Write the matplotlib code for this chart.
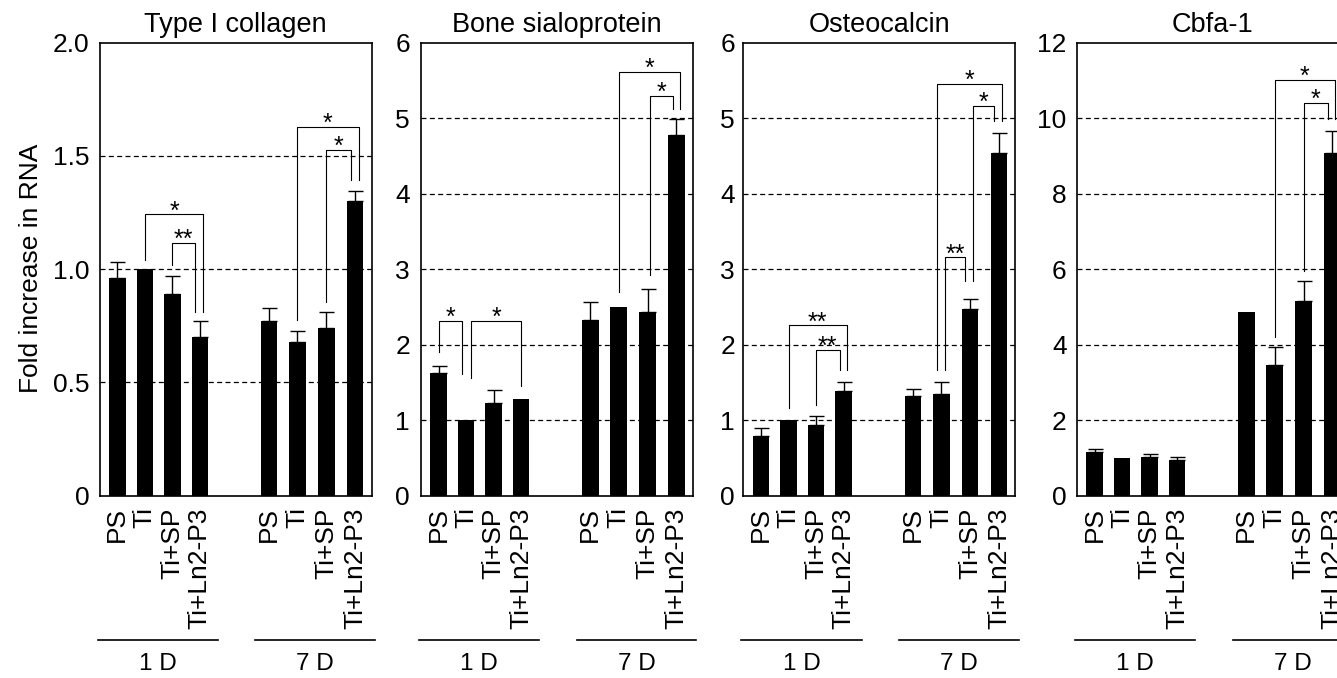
import matplotlib
matplotlib.use("Agg")
import matplotlib.pyplot as plt
from matplotlib.transforms import blended_transform_factory

plt.rcParams['font.family'] = ['Liberation Sans', 'DejaVu Sans']
plt.rcParams['lines.scale_dashes'] = False

# ---------------- data ----------------
conditions = ["PS", "Ti", "Ti+SP", "Ti+Ln2-P3"]
days = ["1 D", "7 D"]
genes = ["Type I collagen", "Bone sialoprotein", "Osteocalcin", "Cbfa-1"]

col1_mean = [0.96, 1.00, 0.89, 0.70, 0.77, 0.68, 0.74, 1.30]
col1_err = [0.07, 0.00, 0.08, 0.07, 0.06, 0.045, 0.07, 0.045]
bsp_mean = [1.62, 1.00, 1.23, 1.28, 2.32, 2.50, 2.43, 4.78]
bsp_err = [0.10, 0.00, 0.17, 0.00, 0.24, 0.00, 0.30, 0.21]
oc_mean = [0.79, 1.00, 0.93, 1.38, 1.32, 1.35, 2.47, 4.54]
oc_err = [0.10, 0.00, 0.13, 0.13, 0.09, 0.16, 0.13, 0.27]
cbfa_mean = [1.15, 1.00, 1.02, 0.94, 4.87, 3.46, 5.15, 9.09]
cbfa_err = [0.09, 0.00, 0.07, 0.09, 0.00, 0.48, 0.54, 0.58]

yticks_list = [[0, 0.5, 1.0, 1.5, 2.0], [0, 1, 2, 3, 4, 5, 6],
               [0, 1, 2, 3, 4, 5, 6], [0, 2, 4, 6, 8, 10, 12]]
ytick_labels = [["0", "0.5", "1.0", "1.5", "2.0"],
                ["0", "1", "2", "3", "4", "5", "6"],
                ["0", "1", "2", "3", "4", "5", "6"],
                ["0", "2", "4", "6", "8", "10", "12"]]

# significance brackets: (bar i, bar j, top, leg bottom i, leg bottom j, label, dx i, dx j)
sig_col1 = [(1, 3, 1.242, 1.04, 0.812, "*", 0.0, 0.12),
            (2, 3, 1.117, 1.018, 0.812, "**", 0.0, -0.17),
            (5, 7, 1.628, 0.775, 1.394, "*", 0.0, 0.12),
            (6, 7, 1.526, 0.853, 1.394, "*", 0.0, -0.17)]
sig_bsp = [(0, 1, 2.316, 1.898, 1.61, "*", 0.0, -0.16),
           (1, 3, 2.316, 1.554, 1.445, "*", 0.18, 0.0),
           (5, 7, 5.612, 2.70, 5.12, "*", 0.0, 0.12),
           (6, 7, 5.30, 2.918, 5.12, "*", 0.09, -0.14)]
sig_oc = [(1, 3, 2.255, 1.157, 1.663, "**", 0.0, 0.12),
          (2, 3, 1.928, 1.20, 1.663, "**", 0.0, -0.15),
          (5, 7, 5.458, 1.663, 4.96, "*", -0.17, 0.11),
          (5, 6, 3.154, 1.663, 2.845, "**", 0.12, -0.18),
          (6, 7, 5.16, 2.845, 4.96, "*", 0.12, -0.19)]
sig_cbfa = [(5, 7, 11.01, 4.2, 9.975, "*", 0.0, 0.10),
            (6, 7, 10.4, 5.95, 9.975, "*", 0.0, -0.15)]

means = [col1_mean, bsp_mean, oc_mean, cbfa_mean]
errs = [col1_err, bsp_err, oc_err, cbfa_err]
sigs = [sig_col1, sig_bsp, sig_oc, sig_cbfa]

# ---------------- layout ----------------
xpos = [0, 1, 2, 3, 5.52, 6.55, 7.6, 8.65]
FS_TITLE = 19.5
FS_TICK = 19
FS_STAR = 18
FS_DAY = 17.5
fig = plt.figure(figsize=(13.37, 6.78), dpi=100)
W, H = 1337, 678
lefts = [99.5, 420.7, 743.3, 1076.7]
ax_w = 272.2
ax_top, ax_bot = 42.7, 495.5
ypads = [7.2, 7.7, 6.0, 7.2]

for k in range(4):
    ax = fig.add_axes([lefts[k] / W, 1 - ax_bot / H, ax_w / W, (ax_bot - ax_top) / H])
    ymax = yticks_list[k][-1]
    ax.set_xlim(-0.65, 9.25)
    ax.set_ylim(0, ymax)
    for t in yticks_list[k][1:-1]:
        ax.axhline(t, color='black', lw=0.9, dashes=(3.6, 2.4), zorder=1)
    ax.bar(xpos, means[k], width=0.6, color='black', zorder=2)
    ex = [x for x, e in zip(xpos, errs[k]) if e > 0]
    ey = [m for m, e in zip(means[k], errs[k]) if e > 0]
    ee = [e for e in errs[k] if e > 0]
    ax.errorbar(ex, ey, yerr=[[0] * len(ee), ee], fmt='none', ecolor='black',
                elinewidth=1.0, capsize=5.4, capthick=1.0, zorder=3)
    for (i, j, top, yi, yj, lab, dxi, dxj) in sigs[k]:
        x1 = xpos[i] + dxi
        x2 = xpos[j] + dxj
        ax.plot([x1, x1, x2, x2], [yi, top, top, yj], color='black', lw=0.8,
                zorder=4, clip_on=False)
        ax.annotate(lab, xy=((x1 + x2) / 2, top), xytext=(0, -3),
                    textcoords='offset points', ha='center', va='baseline',
                    fontsize=FS_STAR, zorder=5)
    ax.set_yticks(yticks_list[k])
    ax.set_yticklabels(ytick_labels[k], fontsize=FS_TICK)
    ax.set_xticks(xpos)
    ax.set_xticklabels(conditions * 2, rotation=90, fontsize=FS_TICK)
    ax.tick_params(axis='y', length=0, pad=ypads[k])
    ax.tick_params(axis='x', length=0, pad=8.5)
    for sp in ax.spines.values():
        sp.set_linewidth(1.2)
    ax.set_title(genes[k], fontsize=FS_TITLE, pad=8)
    tr = blended_transform_factory(ax.transData, ax.transAxes)
    yl = (ax_bot - 640) / (ax_bot - ax_top)
    yt = (ax_bot - 664) / (ax_bot - ax_top)
    for (a, b), d in zip([(-0.72, 3.66), (5.02, 9.38)], days):
        ax.plot([a, b], [yl, yl], color='black', lw=1.2, transform=tr, clip_on=False)
        ax.text((a + b) / 2, yt, d, transform=tr, ha='center', va='center',
                fontsize=FS_DAY)

fig.text(31 / W, 1 - 268 / H, "Fold increase in RNA", rotation=90,
         ha='center', va='center', fontsize=FS_TICK)

fig.savefig("out.png", dpi=100)
